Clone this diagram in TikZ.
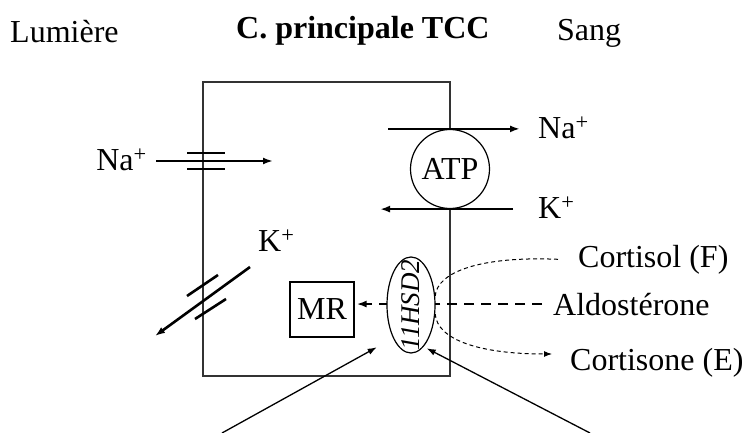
\documentclass[tikz,border=0pt]{standalone}
\usepackage{fontspec}
\setmainfont{Liberation Serif}
\usetikzlibrary{shapes.geometric, arrows.meta, positioning, calc}
\newcommand{\bigtxt}{\fontsize{32}{38}\selectfont}

\begin{document}
\begin{tikzpicture}[x=1pt, y=-1pt, >={Latex[length=10pt,width=7pt]}]
	% Define styles
	\tikzstyle{lbl} = [inner sep=0pt, anchor=base west, font=\bigtxt]
	\tikzstyle{wall} = [draw=black!80, line width=1.4pt, minimum width=247pt, minimum height=294pt, inner sep=0pt]
	\tikzstyle{flux} = [draw, ->, line width=2.6pt]
	\tikzstyle{pore} = [draw, line width=2.6pt]
	\tikzstyle{pump} = [draw, circle, fill=white, line width=1.2pt, minimum size=79pt, inner sep=0pt, font=\bigtxt]
	\tikzstyle{receptor} = [draw, line width=1.2pt, minimum width=64pt, minimum height=55pt, inner sep=0pt, font=\bigtxt]
	\tikzstyle{enzyme} = [draw, ellipse, fill=white, line width=1.2pt, minimum width=48pt, minimum height=96pt, inner sep=0pt]
	\tikzstyle{hormone} = [draw, ->, line width=2.4pt, dash pattern=on 10pt off 7pt]
	\tikzstyle{metab} = [draw, line width=1pt, dash pattern=on 4pt off 3pt]
	\tikzstyle{pointer} = [draw, ->, line width=1.3pt, >={Latex[length=9pt,width=6.5pt]}]

	\useasboundingbox (0,0) rectangle (745,433);

	% Headings
	\node [lbl] (lumiere) at (10,43) {Lumière};
	\node [lbl, font=\bigtxt\bfseries] (title) at (236,39) {C. principale TCC};
	\node [lbl] (sang) at (557,41) {Sang};

	% Principal cell
	\node [wall] (cell) at (326.5,229) {};

	% Apical Na+ channel
	\coordinate (na_lumen) at (156,161);
	\coordinate (na_cell) at (273,161);
	\node [lbl, anchor=east] (na_left) at (147,160) {Na\textsuperscript{+}};
	\draw [pore] (187,153) -- (225,153) (187,169) -- (225,169);
	\draw [flux] (na_lumen) -- (na_cell);

	% Apical K+ channel
	\node [lbl, anchor=west] (k_left) at (258,241) {K\textsuperscript{+}};
	\coordinate (k_cell) at (250,267);
	\coordinate (k_lumen) at (155,336);
	\draw [pore] (187,296) -- (218,275) (195,319) -- (226,299);
	\draw [flux] (k_cell) -- (k_lumen);

	% Basolateral pump
	\node [pump] (atp) at (450,169) {ATP};
	\node [lbl, anchor=west] (na_right) at (538,128) {Na\textsuperscript{+}};
	\node [lbl, anchor=west] (k_right) at (538,208) {K\textsuperscript{+}};
	\draw [flux] ([xshift=-62pt]atp.north) -- ([xshift=70pt]atp.north);
	\draw [flux] ([xshift=63pt]atp.south) -- ([xshift=-70pt]atp.south);

	% Receptor and steroids
	\node [receptor] (mr) at (322,309.5) {MR};
	\node [lbl] (cortisol) at (578,267) {Cortisol (F)};
	\node [lbl] (aldo) at (553,315) {Aldostérone};
	\node [lbl] (cortisone) at (570,370) {Cortisone (E)};
	\draw [hormone, shorten >=2pt] ($(aldo.west)+(-11,0)$) -- (aldo.west -| mr.east);

	% 11HSD2 enzyme
	\node [enzyme] (hsd) at (411,305) {};
	\node [rotate=90, inner sep=0pt, font=\fontsize{27}{30}\selectfont\itshape] (hsd_txt) at (hsd) {11HSD2};
	\coordinate (cortisone_tip) at (552,354);
	\draw [metab] ($(cortisol.west)+(-20,0)$) .. controls (480,256) and (437,272) .. (hsd.20);
	\draw [metab, ->, >={Latex[length=8pt,width=6pt]}] (hsd.-20) .. controls (437,340) and (480,354) .. (cortisone_tip);

	% Pointers from below
	\coordinate (p_left) at (222,433);
	\coordinate (p_left_tip) at (376.7,347.3);
	\coordinate (p_right) at (590,433);
	\coordinate (p_right_tip) at (426.7,348.3);
	\draw [pointer] (p_left) -- (p_left_tip);
	\draw [pointer] (p_right) -- (p_right_tip);

\end{tikzpicture}
\end{document}
